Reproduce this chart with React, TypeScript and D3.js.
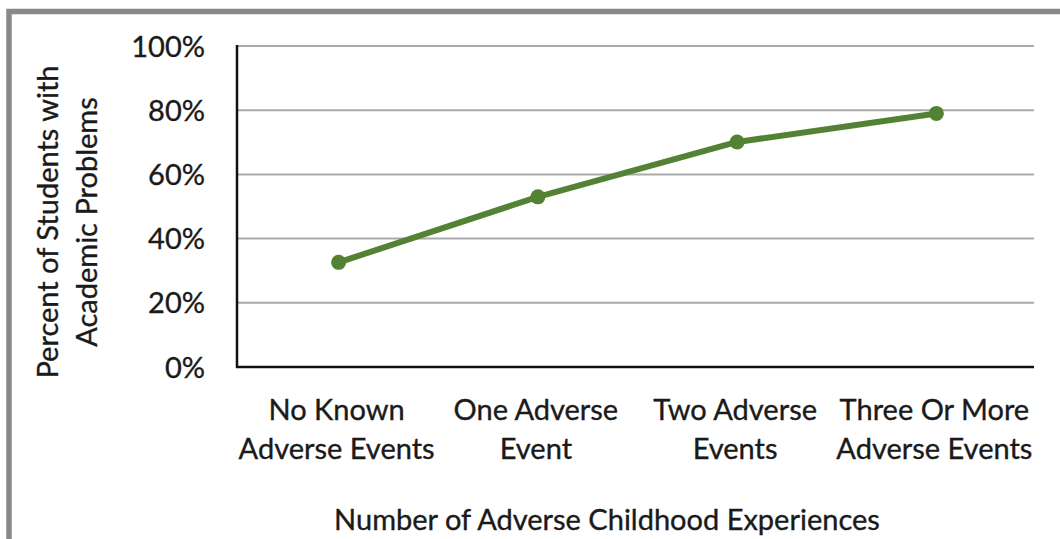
import React from "react";
import * as d3 from "d3";

// Share of students with academic problems, by count of adverse childhood experiences
const categories: string[][] = [
  ["No Known", "Adverse Events"],
  ["One Adverse", "Event"],
  ["Two Adverse", "Events"],
  ["Three Or More", "Adverse Events"],
];
const values: number[] = [0.326, 0.53, 0.701, 0.79];
const yTicks: number[] = [0, 0.2, 0.4, 0.6, 0.8, 1.0];
const yTitle: string[] = ["Percent of Students with", "Academic Problems"];
const xTitle = "Number of Adverse Childhood Experiences";

const W = 1060;
const H = 539;
const FONT = "Lato, 'Open Sans', sans-serif";
const FS = 29;
const TEXT = "#1a1a1a";
const GREEN = "#548235";

export default function App() {
  const plotLeft = 237;
  const plotRight = 1034;
  const plotTop = 46;
  const plotBottom = 367;

  const keys = categories.map((c) => c.join(" "));
  const x = d3.scaleBand<string>().domain(keys).range([plotLeft + 2, plotRight + 2]).padding(0);
  const y = d3.scaleLinear().domain([0, 1]).range([plotBottom, plotTop]);
  const cx = (i: number) => (x(keys[i]) as number) + x.bandwidth() / 2;

  const line = d3
    .line<number>()
    .x((_, i) => cx(i))
    .y((d) => y(d));

  const fmt = d3.format(".0%");
  const textStyle = { stroke: TEXT, strokeWidth: 0.35 };

  return (
    <svg
      width={W}
      height={H}
      viewBox={`0 0 ${W} ${H}`}
      style={{ position: "absolute", left: 0, top: 0, background: "#fff" }}
      fontFamily={FONT}
    >
      {/* outer frame, running off the right and bottom edges */}
      <rect x={9} y={11.5} width={1200} height={700} fill="#fff" stroke="#898989" strokeWidth={5.5} />

      {/* horizontal gridlines */}
      {yTicks
        .filter((t) => t > 0)
        .map((t) => (
          <line
            key={t}
            x1={plotLeft}
            x2={plotRight}
            y1={y(t)}
            y2={y(t)}
            stroke="#aaaaaa"
            strokeWidth={2}
          />
        ))}

      {/* axes */}
      <line x1={plotLeft} x2={plotLeft} y1={plotTop - 1} y2={plotBottom + 1} stroke="#111" strokeWidth={2.5} />
      <line x1={plotLeft - 1} x2={plotRight} y1={plotBottom} y2={plotBottom} stroke="#111" strokeWidth={2.5} />

      {/* y tick labels */}
      {yTicks.map((t) => (
        <text key={t} x={205} y={y(t) + 10.5} textAnchor="end" fontSize={FS} fill={TEXT} style={textStyle}>
          {fmt(t)}
        </text>
      ))}

      {/* category labels */}
      {categories.map((lines, i) => (
        <text key={i} textAnchor="middle" fontSize={FS} fill={TEXT} style={textStyle}>
          {lines.map((l, j) => (
            <tspan key={j} x={(x(keys[i]) as number) + x.bandwidth() / 2 - 2} y={420 + j * 39}>
              {l}
            </tspan>
          ))}
        </text>
      ))}

      {/* axis titles */}
      <text x={607} y={530} textAnchor="middle" fontSize={FS} fill={TEXT} style={textStyle}>
        {xTitle}
      </text>
      <text transform="translate(0,222) rotate(-90)" textAnchor="middle" fontSize={FS} fill={TEXT} style={textStyle}>
        {yTitle.map((l, j) => (
          <tspan key={j} x={0} y={58 + j * 39}>
            {l}
          </tspan>
        ))}
      </text>

      {/* series */}
      <path d={line(values) ?? ""} fill="none" stroke={GREEN} strokeWidth={6} strokeLinejoin="round" />
      {values.map((v, i) => (
        <circle key={i} cx={cx(i)} cy={y(v)} r={7.5} fill={GREEN} />
      ))}
    </svg>
  );
}
